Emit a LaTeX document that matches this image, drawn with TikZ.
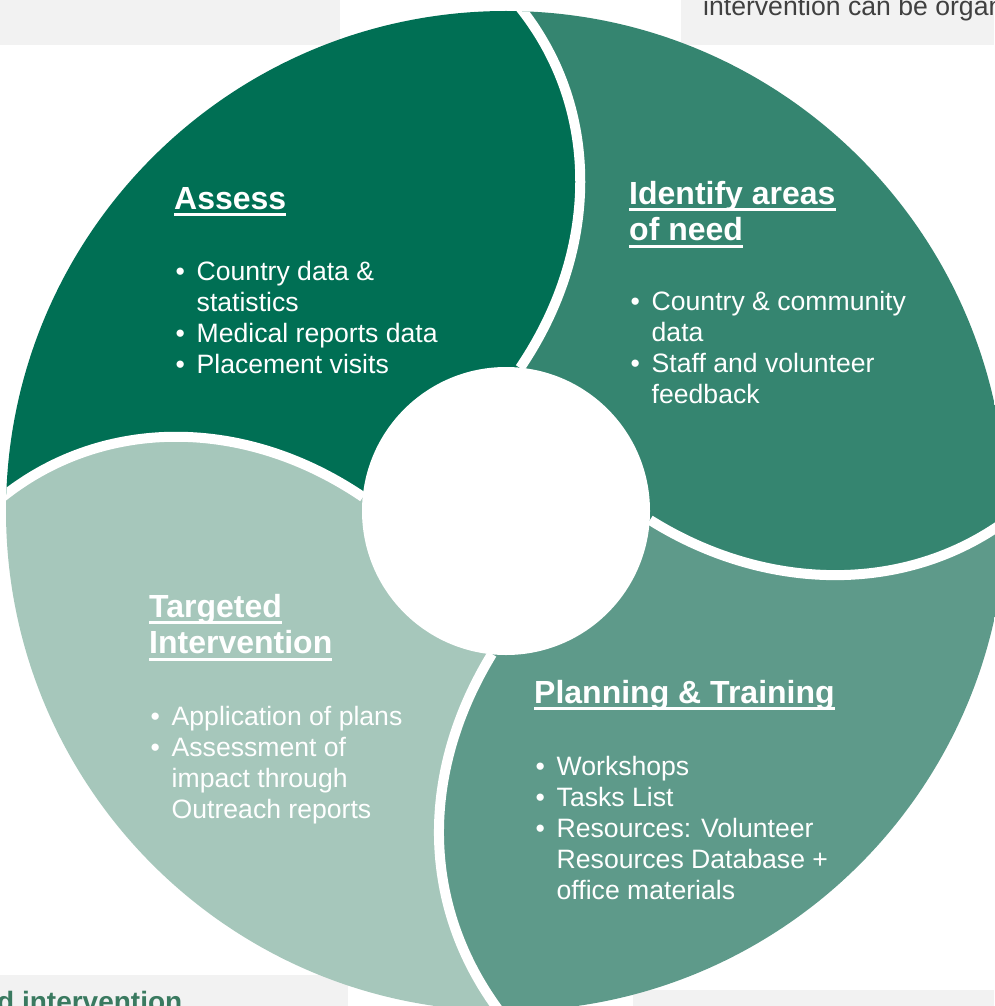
\documentclass[tikz,border=0pt]{standalone}
\usepackage{fontspec}
\setmainfont{Liberation Sans}
\definecolor{cA}{HTML}{006F54}
\definecolor{cB}{HTML}{358570}
\definecolor{cC}{HTML}{5E9A8A}
\definecolor{cD}{HTML}{A6C7BB}
\definecolor{bggray}{HTML}{F2F2F2}
\definecolor{txtgray}{HTML}{404040}
\definecolor{capgreen}{HTML}{3A7A60}
\newcommand\hul[1]{\setbox0\hbox{#1}\rlap{\rule[-7pt]{\wd0}{3.2pt}}\box0}
\newcommand\bul{\makebox[21pt][l]{\textbullet}}
\tikzset{
  head/.style={anchor=base west, inner sep=0pt, text=white, font=\fontsize{32}{36.8}\selectfont\bfseries},
  body/.style={anchor=base west, inner sep=0pt, text=white, font=\fontsize{26.6}{31}\selectfont},
  sepline/.style={white, line width=10pt},
  bgbox/.style={fill=bggray},
}
\begin{document}
\begin{tikzpicture}[x=1pt,y=-1pt]
\useasboundingbox (0,0) rectangle (994,1006);
% background boxes
\fill[bgbox] (0,0) rectangle (340,45);
\fill[bgbox] (681,0) rectangle (994,45);
\fill[bgbox] (0,975) rectangle (348,1006);
\fill[bgbox] (633,990) rectangle (994,1006);
\node[anchor=base west, inner sep=0pt, text=txtgray, font=\fontsize{26.6}{31}\selectfont] (toptext) at (703,16) {intervention can be organ};
\node[anchor=base west, inner sep=0pt, text=capgreen, font=\fontsize{28}{32}\selectfont\bfseries] (bottext) at (-3,1011) {d intervention};
% geometry
\coordinate (C) at (506,511);
\coordinate (t0) at (520,368); \coordinate (t1) at (600,250); \coordinate (t2) at (600,110); \coordinate (t3) at (522,10); \coordinate (t4) at (502,-16);
\coordinate (l0) at (363,497); \coordinate (l1) at (245,417); \coordinate (l2) at (105,417); \coordinate (l3) at (5,495); \coordinate (l4) at (-21,515);
\coordinate (b0) at (492,654); \coordinate (b1) at (420,772); \coordinate (b2) at (420,905); \coordinate (b3) at (500,1012); \coordinate (b4) at (519,1038);
\coordinate (r0) at (650,520); \coordinate (r1) at (765,592); \coordinate (r2) at (905,595); \coordinate (r3) at (1007,520); \coordinate (r4) at (1033,501);
\begin{scope}
\clip (C) circle[radius=500];
\fill[cA] (C) -- (t0) .. controls (t1) and (t2) .. (t3) -- (t4) -- (-60,-60) -- (l4) -- (l3) .. controls (l2) and (l1) .. (l0) -- cycle;
\fill[cB] (C) -- (t0) .. controls (t1) and (t2) .. (t3) -- (t4) -- (1060,-60) -- (r4) -- (r3) .. controls (r2) and (r1) .. (r0) -- cycle;
\fill[cC] (C) -- (r0) .. controls (r1) and (r2) .. (r3) -- (r4) -- (1060,1070) -- (b4) -- (b3) .. controls (b2) and (b1) .. (b0) -- cycle;
\fill[cD] (C) -- (b0) .. controls (b1) and (b2) .. (b3) -- (b4) -- (-60,1070) -- (l4) -- (l3) .. controls (l2) and (l1) .. (l0) -- cycle;
\draw[sepline] (t0) .. controls (t1) and (t2) .. (t3) -- (t4);
\draw[sepline] (l0) .. controls (l1) and (l2) .. (l3) -- (l4);
\draw[sepline] (b0) .. controls (b1) and (b2) .. (b3) -- (b4);
\draw[sepline] (r0) .. controls (r1) and (r2) .. (r3) -- (r4);
\end{scope}
\node[circle, fill=white, minimum size=288pt, inner sep=0pt] (hub) at (C) {};
% Assess
\node[head] (assessH) at (174,209) {\hul{Assess}};
\node[body] (assessL) at (175.5,280) {\begin{tabular}[t]{@{}l@{}l@{}}
\bul & Country data \&\\
 & statistics\\
\bul & Medical reports data\\
\bul & Placement visits
\end{tabular}};
% Identify
\node[head] (identH) at (629,204) {\begin{tabular}[t]{@{}l@{}}\hul{Identify areas}\\ \hul{of need}\end{tabular}};
\node[body] (identL) at (630.5,310) {\begin{tabular}[t]{@{}l@{}l@{}}
\bul & Country \& community\\
 & data\\
\bul & Staff and volunteer\\
 & feedback
\end{tabular}};
% Targeted
\node[head] (targH) at (149,617) {\begin{tabular}[t]{@{}l@{}}\hul{Targeted}\\ \hul{Intervention}\end{tabular}};
\node[body] (targL) at (150.5,725) {\begin{tabular}[t]{@{}l@{}l@{}}
\bul & Application of plans\\
\bul & Assessment of\\
 & impact through\\
 & Outreach reports
\end{tabular}};
% Planning
\node[head] (planH) at (534,703) {\hul{Planning \& Training}};
\node[body] (planL) at (535.5,775) {\begin{tabular}[t]{@{}l@{}l@{}}
\bul & Workshops\\
\bul & Tasks List\\
\bul & Resources: Volunteer\\
 & Resources Database +\\
 & office materials
\end{tabular}};
\end{tikzpicture}
\end{document}
